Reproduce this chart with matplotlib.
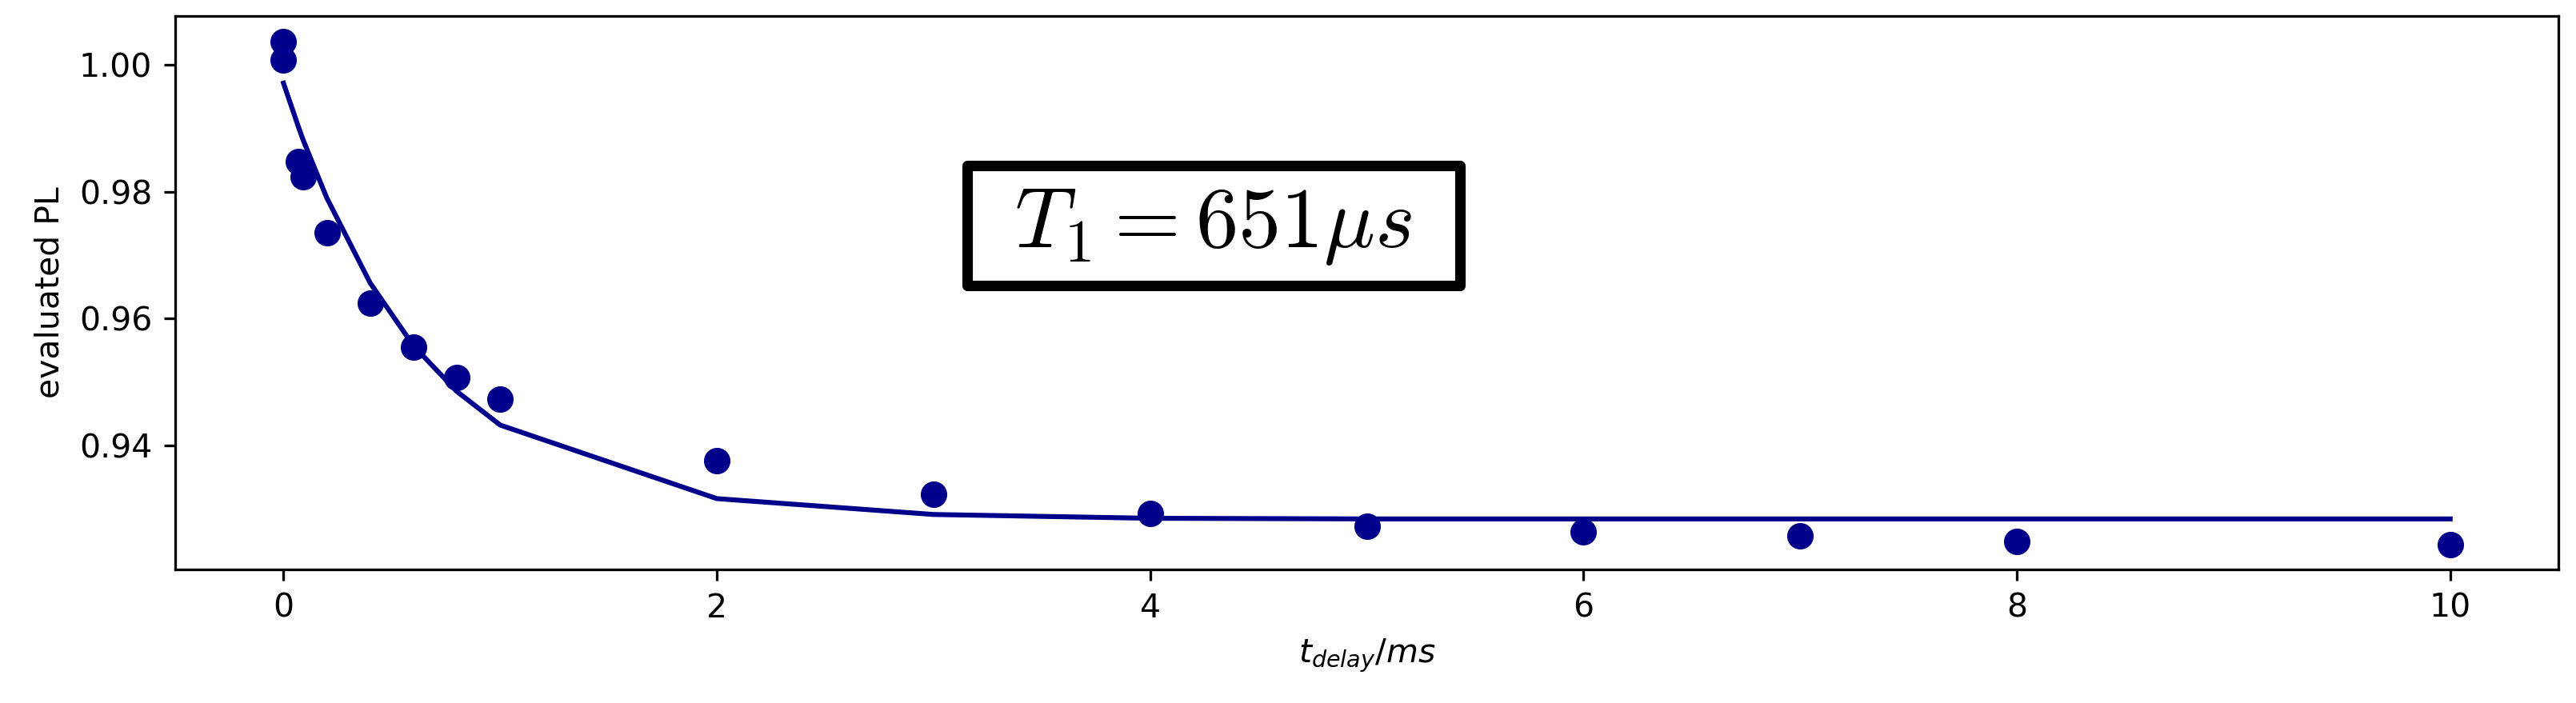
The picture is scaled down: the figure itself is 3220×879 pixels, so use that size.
import matplotlib
matplotlib.use('Agg')
import matplotlib.pyplot as plt
from matplotlib.path import Path

# measured delays (ms) and evaluated PL
t_delay = [0, 0, 0.07, 0.09, 0.2, 0.4, 0.6, 0.8, 1, 2, 3, 4, 5, 6, 7, 8, 10]
pl = [1.0037, 1.0008, 0.9847, 0.9823, 0.9735, 0.9624, 0.9555, 0.9507, 0.9473,
      0.9376, 0.9323, 0.9293, 0.9273, 0.9264, 0.9257, 0.9248, 0.9244]

# fitted curve, evaluated at the same delays
fit_pl = [0.9971, 0.9971, 0.9901, 0.9882, 0.9790, 0.9656, 0.9557, 0.9485, 0.9432,
          0.9316, 0.9291, 0.9285, 0.9284, 0.9284, 0.9284, 0.9284, 0.9284]

t1_label = r'$T_1 = 651\mu s$'


def wide_box(x0, y0, width, height, mutation_size):
    # square frame with more padding left/right than top/bottom
    padx = 0.56 * mutation_size
    pady = 0.22 * mutation_size
    x0, y0 = x0 - padx, y0 - pady
    x1, y1 = x0 + width + 2 * padx, y0 + height + 2 * pady
    return Path([(x0, y0), (x1, y0), (x1, y1), (x0, y1), (x0, y0)], closed=True)


DPI = 295
fig = plt.figure(figsize=(3220 / DPI, 879 / DPI), dpi=DPI)
ax = fig.add_axes([0.068, 0.19, 0.9252, 0.787])

ax.scatter(t_delay, pl, color='darkblue', s=50, zorder=3)
ax.plot(t_delay, fit_pl, color='darkblue', linewidth=1.5)

ax.set_xlabel(r'$t_{delay}/ms$')
ax.set_ylabel('evaluated PL')

ax.text(0.4357, 0.621, t1_label, transform=ax.transAxes, fontsize=26,
        math_fontfamily='cm', ha='center', va='center',
        bbox=dict(boxstyle=wide_box, facecolor='white',
                  edgecolor='black', linewidth=3.2, joinstyle='round'))

fig.savefig('out.png', dpi=DPI)
